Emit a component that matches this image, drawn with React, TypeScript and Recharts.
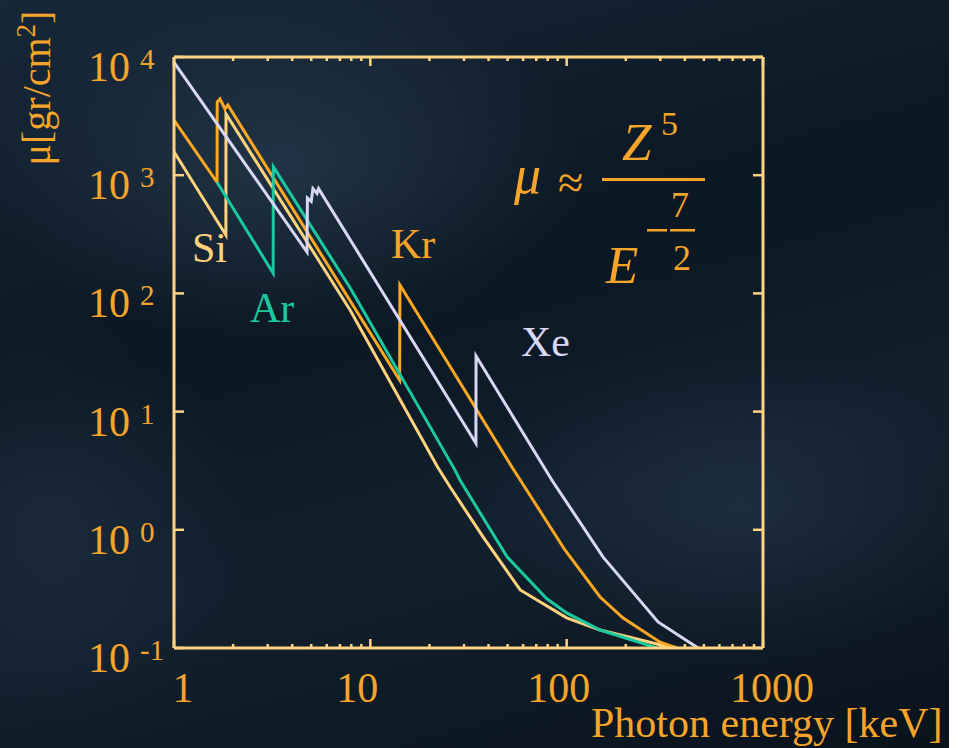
import { LineChart, Line, XAxis, YAxis } from 'recharts'

const FRAME = '#ffd382'
const ORANGE = '#f7a52a'
const SI_COLOUR = '#ffd27e'
const AR_COLOUR = '#1cc89f'
const KR_COLOUR = '#fca822'
const XE_COLOUR = '#d8d8f6'
const FONT = "'Liberation Serif', 'Times New Roman', 'DejaVu Serif', serif"

// photon energy [keV] and mass attenuation
const siEnergy = [1, 1.838, 1.84, 7.9, 22, 25.5, 37.5, 58, 100, 148, 266, 344]
const siMu = [1580, 312, 3300, 72, 3.4, 2.3, 0.87, 0.31, 0.18, 0.142, 0.112, 0.1]

const arEnergy = [1.657, 3.2, 3.205, 7.9, 27, 28.6, 49.7, 79, 100, 148, 289]
const arMu = [872, 148, 1180, 111, 3.2, 2.64, 0.59, 0.262, 0.198, 0.142, 0.1]

const krEnergy = [1, 1.657, 1.66, 1.715, 1.818, 1.88, 14.1, 14.15, 53, 58, 98, 148, 194, 299, 365]
const krMu = [2930, 872, 4160, 4420, 3630, 3930, 18.5, 118, 3.33, 2.64, 0.675, 0.27, 0.179, 0.112, 0.1]

const xeEnergy = [1, 4.76, 4.78, 5.0, 5.1, 5.35, 5.45, 34.5, 34.55, 84, 153, 292, 467]
const xeMu = [9000, 224, 640, 600, 770, 700, 770, 5.4, 29.5, 2.64, 0.59, 0.166, 0.1]

const xMajorTicks = [1, 10, 100, 1000]
const xMinorTicks = [2, 3, 4, 5, 6, 7, 8, 9, 20, 30, 40, 50, 60, 70, 80, 90, 200, 300, 400, 500, 600, 700, 800, 900]
const xTicks = [...xMajorTicks, ...xMinorTicks].sort((a, b) => a - b)
const yTicks = [0.1, 1, 10, 100, 1000, 10000]
const yTickExponents = ['-1', '0', '1', '2', '3', '4']

// small nudges so the x labels sit where the original put them
const xLabelShift: Record<number, number> = { 1: 9, 10: -13, 100: -8, 1000: 9 }

const toPoints = (e: number[], mu: number[]) => e.map((v, i) => ({ e: v, mu: mu[i] }))

const textStyle = { fontFamily: FONT }

// eslint-disable-next-line @typescript-eslint/no-explicit-any
function BottomTick({ x, y, payload }: any) {
  const v = payload.value
  const major = xMajorTicks.includes(v)
  return (
    <g>
      <line x1={x} x2={x} y1={y} y2={y - (major ? 9 : 4)} stroke={FRAME} strokeWidth={2.5} />
      {major && (
        <text x={x + (xLabelShift[v] ?? 0)} y={y + 54} textAnchor="middle" fill={ORANGE} fontSize={42} style={textStyle}>
          {v}
        </text>
      )}
    </g>
  )
}

// eslint-disable-next-line @typescript-eslint/no-explicit-any
function TopTick({ x, y, payload }: any) {
  const major = xMajorTicks.includes(payload.value)
  return <line x1={x} x2={x} y1={y} y2={y + (major ? 9 : 4)} stroke={FRAME} strokeWidth={2.5} />
}

// eslint-disable-next-line @typescript-eslint/no-explicit-any
function LeftTick({ x, y, payload }: any) {
  const exp = yTickExponents[yTicks.indexOf(payload.value)]
  return (
    <g fill={ORANGE}>
      <line x1={x} x2={x + 10} y1={y} y2={y} stroke={FRAME} strokeWidth={2.5} />
      <text x={x - 44} y={y + 24} textAnchor="end" fontSize={42} style={textStyle}>10</text>
      <text x={x - 34} y={y + 12} fontSize={29} style={textStyle}>{exp}</text>
    </g>
  )
}

// eslint-disable-next-line @typescript-eslint/no-explicit-any
function RightTick({ x, y }: any) {
  return <line x1={x} x2={x - 10} y1={y} y2={y} stroke={FRAME} strokeWidth={2.5} />
}

const axisLine = { stroke: FRAME, strokeWidth: 3 }

export default function App() {
  return (
    <div
      style={{
        position: 'absolute',
        left: 0,
        top: 0,
        width: 949,
        height: 748,
        fontFamily: FONT,
        background:
          'radial-gradient(ellipse 45% 35% at 30% 22%, rgba(50,72,94,0.5), transparent 70%),' +
          'radial-gradient(ellipse 40% 30% at 78% 68%, rgba(46,68,90,0.4), transparent 70%),' +
          'radial-gradient(ellipse 30% 40% at 5% 70%, rgba(40,60,80,0.45), transparent 70%),' +
          'linear-gradient(165deg, #172838 0%, #0b1722 40%, #12202e 65%, #09131c 100%)',
      }}
    >
      <LineChart width={949} height={748} margin={{ top: 47, right: 166, bottom: 40, left: 94 }}>
        <XAxis
          xAxisId="bottom"
          dataKey="e"
          type="number"
          scale="log"
          domain={[1, 1000]}
          allowDataOverflow
          ticks={xTicks}
          interval={0}
          height={60}
          tickSize={0}
          tickMargin={0}
          tickLine={false}
          axisLine={axisLine}
          tick={<BottomTick />}
        />
        <XAxis
          xAxisId="top"
          orientation="top"
          dataKey="e"
          type="number"
          scale="log"
          domain={[1, 1000]}
          allowDataOverflow
          ticks={xTicks}
          interval={0}
          height={10}
          tickSize={0}
          tickMargin={0}
          tickLine={false}
          axisLine={axisLine}
          tick={<TopTick />}
        />
        <YAxis
          yAxisId="left"
          type="number"
          scale="log"
          domain={[0.1, 10000]}
          allowDataOverflow
          ticks={yTicks}
          interval={0}
          width={80}
          tickSize={0}
          tickMargin={0}
          tickLine={false}
          axisLine={axisLine}
          tick={<LeftTick />}
        />
        <YAxis
          yAxisId="right"
          orientation="right"
          type="number"
          scale="log"
          domain={[0.1, 10000]}
          allowDataOverflow
          ticks={yTicks}
          interval={0}
          width={20}
          tickSize={0}
          tickMargin={0}
          tickLine={false}
          axisLine={axisLine}
          tick={<RightTick />}
        />
        <Line data={toPoints(siEnergy, siMu)} dataKey="mu" xAxisId="bottom" yAxisId="left" type="linear"
          stroke={SI_COLOUR} strokeWidth={3} dot={false} isAnimationActive={false} />
        <Line data={toPoints(krEnergy, krMu)} dataKey="mu" xAxisId="bottom" yAxisId="left" type="linear"
          stroke={KR_COLOUR} strokeWidth={3} dot={false} isAnimationActive={false} />
        <Line data={toPoints(arEnergy, arMu)} dataKey="mu" xAxisId="bottom" yAxisId="left" type="linear"
          stroke={AR_COLOUR} strokeWidth={3} dot={false} isAnimationActive={false} />
        <Line data={toPoints(xeEnergy, xeMu)} dataKey="mu" xAxisId="bottom" yAxisId="left" type="linear"
          stroke={XE_COLOUR} strokeWidth={3} dot={false} isAnimationActive={false} />
      </LineChart>

      <svg width={949} height={748} style={{ position: 'absolute', left: 0, top: 0, pointerEvents: 'none', fontFamily: FONT }}>
        <text transform="rotate(-90, 50, 88)" x={50} y={88} textAnchor="middle" fill={ORANGE} fontSize={40}>
          μ[gr/cm<tspan fontSize={27} dy={-15}>2</tspan><tspan dy={15}>]</tspan>
        </text>
        <text x={591} y={737} fill={ORANGE} fontSize={42}>Photon energy [keV]</text>

        <text x={192} y={262} fill={SI_COLOUR} fontSize={42}>Si</text>
        <text x={250} y={322} fill={AR_COLOUR} fontSize={42}>Ar</text>
        <text x={391} y={258} fill={ORANGE} fontSize={42}>Kr</text>
        <text x={521} y={356} fill={XE_COLOUR} fontSize={42}>Xe</text>

        <g fill={ORANGE} fontStyle="italic">
          <text x={514} y={193} fontSize={54}>μ</text>
          <text x={558} y={198} fontSize={46} fontStyle="normal">≈</text>
          <rect x={602} y={178} width={103} height={3} />
          <text x={622} y={160} fontSize={53}>Z</text>
          <text x={661} y={135} fontSize={34} fontStyle="normal">5</text>
          <text x={606} y={283} fontSize={53}>E</text>
          <rect x={647} y={229} width={20} height={2.5} />
          <rect x={670} y={229} width={25} height={2.5} />
          <text x={671} y={217} fontSize={36} fontStyle="normal">7</text>
          <text x={673} y={270} fontSize={36} fontStyle="normal">2</text>
        </g>
      </svg>
    </div>
  )
}
